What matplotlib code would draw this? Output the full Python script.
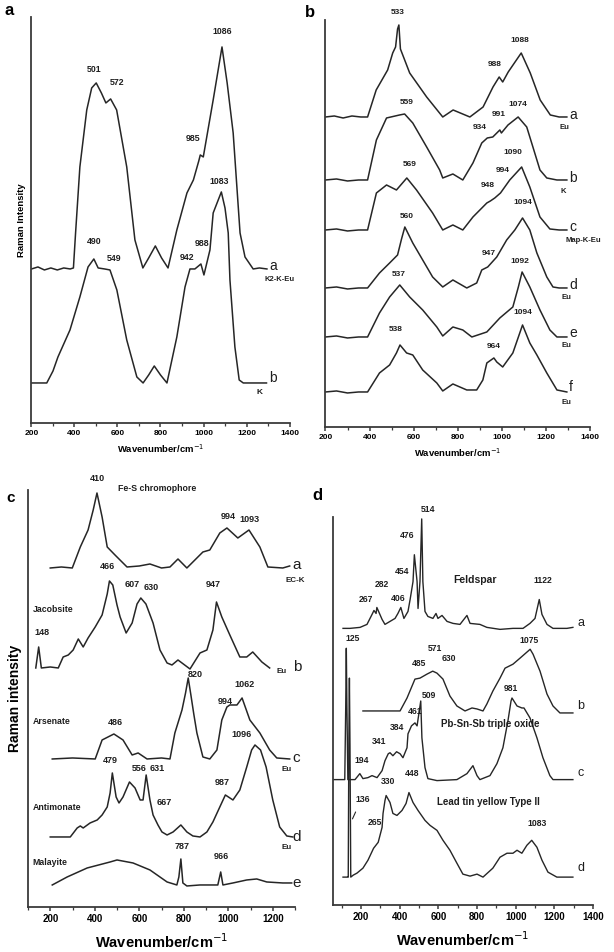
import matplotlib.pyplot as plt
from matplotlib.ticker import MultipleLocator

plt.rcParams['font.family'] = ['Liberation Sans', 'DejaVu Sans']

LINE = '#262626'

# ---------------- panel a ----------------
pa_a_x = [200, 230, 260, 290, 320, 350, 380, 395, 405, 425, 457, 480, 501, 525, 546, 568, 596, 643, 681,
          718, 745, 776, 805, 835, 876, 923, 953, 978, 985, 999, 1045, 1086, 1110, 1138, 1170, 1193, 1231, 1260, 1295]
pa_a_y = [154, 156, 153, 155, 153, 155, 154, 155, 190, 256, 313, 335, 340, 330, 320, 324, 313, 256, 183,
          155, 165, 177, 165, 155, 193, 230, 243, 262, 268, 266, 323, 376, 340, 290, 190, 166, 154, 155, 154]
pa_b_x = [200, 240, 271, 300, 323, 379, 425, 463, 490, 510, 540, 565, 597, 643, 690, 719, 745, 771, 800,
          830, 876, 914, 937, 960, 988, 1002, 1030, 1045, 1083, 1100, 1115, 1123, 1146, 1166, 1185, 1240, 1293]
pa_b_y = [40, 40, 40, 52, 66, 93, 126, 156, 164, 155, 154, 153, 133, 83, 46, 40, 48, 57, 48,
          40, 86, 136, 154, 154, 159, 148, 173, 210, 231, 215, 190, 143, 76, 43, 40, 40, 40]

# ---------------- panel b ----------------
pb_a_x = [200, 240, 280, 320, 360, 391, 430, 482, 505, 518, 527, 533, 540, 582, 659, 732, 779, 855, 915,
          960, 988, 1004, 1029, 1088, 1129, 1174, 1220, 1260, 1295]
pb_a_y = [310, 311, 309, 311, 310, 310, 337, 357, 374, 380, 398, 402, 378, 354, 330, 310, 317, 310, 320,
          340, 350, 345, 355, 374, 354, 327, 312, 310, 310]
pb_b_x = [200, 250, 300, 350, 391, 431, 477, 536, 559, 596, 659, 718, 732, 778, 823, 869, 909, 934, 959,
          991, 998, 1028, 1074, 1113, 1141, 1173, 1204, 1250, 1295]
pb_b_y = [247, 248, 246, 247, 247, 287, 309, 312, 313, 304, 280, 257, 249, 253, 247, 264, 284, 289, 290,
          297, 294, 302, 310, 300, 280, 257, 249, 247, 247]
pb_c_x = [200, 250, 300, 350, 391, 431, 477, 522, 569, 613, 686, 732, 778, 823, 869, 932, 948, 968, 994,
          1036, 1090, 1127, 1173, 1218, 1260, 1295]
pb_c_y = [197, 198, 196, 197, 197, 234, 242, 237, 249, 237, 214, 197, 202, 197, 210, 224, 226, 229, 234,
          247, 260, 240, 210, 198, 197, 197]
pb_d_x = [200, 250, 300, 350, 391, 445, 491, 527, 545, 560, 596, 641, 686, 732, 778, 841, 886, 909, 936,
          977, 1022, 1059, 1094, 1127, 1159, 1204, 1232, 1260, 1295]
pb_d_y = [139, 140, 138, 139, 139, 154, 164, 172, 188, 200, 184, 167, 150, 140, 147, 139, 144, 157, 160,
          170, 187, 197, 209, 197, 174, 150, 140, 139, 139]
pb_e_x = [200, 250, 300, 350, 391, 445, 491, 537, 582, 641, 705, 732, 778, 823, 864, 932, 991, 1050, 1075,
          1092, 1127, 1173, 1218, 1250, 1295]
pb_e_y = [90, 91, 89, 90, 90, 114, 130, 142, 130, 117, 100, 91, 100, 97, 90, 95, 109, 120, 140,
          155, 140, 117, 97, 90, 90]
pb_f_x = [200, 250, 300, 350, 391, 445, 491, 522, 538, 568, 596, 641, 705, 732, 778, 841, 886, 914, 932,
          964, 977, 1004, 1050, 1094, 1127, 1159, 1204, 1250, 1295]
pb_f_y = [35, 36, 34, 35, 35, 54, 62, 74, 82, 74, 72, 57, 44, 36, 43, 37, 37, 47, 64,
          69, 65, 60, 74, 102, 84, 72, 54, 37, 35]

# ---------------- panel c ----------------
pc_a_x = [200, 250, 299, 335, 370, 393, 410, 433, 456, 491, 545, 600, 648, 700, 738, 774, 814, 859, 886,
          917, 962, 994, 1043, 1093, 1142, 1178, 1245, 1276]
pc_a_y = [339, 340, 339, 360, 377, 397, 414, 390, 360, 352, 340, 341, 343, 339, 340, 348, 339, 349, 355,
          357, 374, 379, 369, 377, 360, 340, 339, 341]
pc_b_x = [135, 148, 160, 200, 236, 258, 281, 303, 326, 348, 370, 402, 433, 456, 466, 481, 500, 514, 541, 568,
          590, 607, 630, 662, 693, 725, 747, 774, 828, 873, 904, 931, 947, 971, 1007, 1052, 1083, 1110, 1151, 1186]
pc_b_y = [239, 260, 239, 240, 239, 250, 252, 257, 268, 260, 269, 280, 292, 313, 326, 322, 302, 290, 274, 284,
          303, 309, 303, 284, 257, 244, 242, 247, 238, 254, 257, 277, 305, 290, 272, 250, 250, 255, 245, 239]
pc_c_x = [209, 300, 402, 433, 486, 527, 568, 595, 635, 700, 738, 760, 792, 808, 820, 832, 845, 859, 886,
          917, 949, 971, 994, 1007, 1039, 1062, 1097, 1142, 1186, 1218, 1276]
pc_c_y = [148, 149, 148, 167, 173, 167, 152, 154, 148, 149, 148, 174, 197, 214, 229, 212, 193, 174, 150,
          148, 157, 187, 200, 202, 202, 209, 187, 174, 157, 149, 148]
pc_d_x = [200, 290, 321, 335, 348, 379, 411, 433, 456, 469, 479, 496, 509, 527, 556, 581, 604, 617, 631,
          648, 662, 684, 702, 725, 752, 787, 814, 841, 873, 904, 931, 962, 987, 1021, 1052, 1083, 1105, 1120,
          1145, 1170, 1200, 1231, 1263, 1290]
pc_d_y = [70, 70, 79, 81, 79, 84, 87, 92, 100, 114, 134, 110, 104, 110, 125, 119, 107, 107, 132,
          107, 92, 82, 75, 72, 75, 82, 75, 71, 70, 75, 85, 100, 112, 107, 117, 140, 157, 162,
          157, 140, 107, 80, 71, 70]
pc_e_x = [209, 276, 366, 469, 500, 572, 648, 725, 769, 778, 787, 796, 814, 873, 953, 966, 976, 1021, 1083,
          1128, 1173, 1245, 1285]
pc_e_y = [22, 30, 39, 45, 47, 44, 37, 25, 22, 30, 48, 24, 21, 22, 22, 35, 22, 24, 27,
          28, 25, 24, 24]

# ---------------- panel d ----------------
pd_a_x = [107, 143, 195, 231, 257, 267, 278, 282, 309, 324, 350, 376, 391, 406, 422, 443, 454, 469, 476,
          490, 495, 505, 514, 520, 531, 546, 572, 588, 598, 619, 645, 676, 712, 748, 764, 815, 851, 919,
          986, 1038, 1074, 1100, 1122, 1136, 1162, 1193, 1265, 1296]
pd_a_y = [278, 278, 279, 282, 292, 296, 293, 299, 287, 282, 285, 288, 293, 299, 288, 295, 307, 325, 352,
          325, 298, 325, 388, 325, 295, 290, 288, 293, 288, 291, 285, 283, 282, 291, 283, 282, 279, 277,
          278, 278, 283, 288, 307, 292, 282, 278, 278, 279]
pd_b_x = [210, 300, 402, 438, 479, 505, 541, 571, 593, 624, 660, 696, 738, 774, 800, 831, 851, 882, 919,
          945, 986, 1022, 1075, 1090, 1126, 1162, 1193, 1229, 1296]
pd_b_y = [195, 195, 195, 208, 227, 228, 232, 235, 233, 227, 210, 200, 195, 198, 197, 195, 202, 215, 228,
          238, 242, 248, 257, 252, 235, 212, 200, 193, 193]
pd_c_x = [55, 107, 116, 121, 124, 127, 132, 169, 194, 210, 236, 257, 283, 309, 324, 341, 350, 365, 384,
          402, 417, 438, 443, 461, 479, 490, 509, 515, 531, 546, 593, 696, 748, 779, 800, 815, 867, 903,
          934, 960, 976, 981, 1007, 1032, 1043, 1074, 1110, 1141, 1177, 1193, 1296]
pd_c_y = [126, 126, 126, 200, 258, 200, 126, 126, 132, 127, 128, 130, 128, 135, 145, 152, 153, 150, 154,
          152, 148, 158, 172, 180, 183, 180, 205, 168, 138, 127, 125, 126, 132, 140, 130, 126, 130, 142,
          158, 185, 205, 208, 200, 198, 198, 188, 168, 148, 130, 126, 126]
pd_d_x = [107, 130, 134, 137, 140, 143, 147, 160, 179, 210, 236, 265, 289, 309, 314, 324, 330, 350, 365,
          386, 412, 433, 448, 469, 495, 531, 557, 593, 624, 660, 696, 727, 764, 800, 831, 882, 919, 955,
          986, 1007, 1032, 1058, 1083, 1110, 1136, 1167, 1213, 1296]
pd_d_y = [28, 28, 28, 160, 228, 160, 28, 30, 32, 37, 45, 57, 63, 78, 92, 105, 110, 103, 92,
          90, 95, 102, 113, 103, 95, 85, 80, 75, 65, 55, 42, 31, 29, 31, 28, 37, 48, 52,
          52, 55, 52, 60, 65, 58, 45, 33, 28, 28]


def style_axis(ax, xmin, xmax, ymax, majors, tick_size):
    ax.set_xlim(xmin, xmax)
    ax.set_ylim(0, ymax)
    ax.spines['top'].set_visible(False)
    ax.spines['right'].set_visible(False)
    for side in ('left', 'bottom'):
        ax.spines[side].set_linewidth(1.3)
        ax.spines[side].set_color('#3a3a3a')
    ax.set_yticks([])
    ax.set_xticks(majors)
    ax.xaxis.set_minor_locator(MultipleLocator(100))
    ax.tick_params(axis='x', which='major', length=3, width=1.1, labelsize=tick_size, pad=2, color='#3a3a3a')
    ax.tick_params(axis='x', which='minor', length=2, width=0.9, color='#3a3a3a')
    for lab in ax.get_xticklabels():
        lab.set_fontweight('bold')


def put(ax, x, y, s, size, weight='bold', ha='center'):
    ax.text(x, y, s, fontsize=size, fontweight=weight, ha=ha, va='center', color='#1e1e1e')


fig = plt.figure(figsize=(6.14, 9.52), dpi=100)

# ---- a ----
ax = fig.add_axes([0.0513, 0.5557, 0.4202, 0.4265])
ax.plot(pa_a_x, pa_a_y, color=LINE, lw=1.1)
ax.plot(pa_b_x, pa_b_y, color=LINE, lw=1.1)
style_axis(ax, 200, 1400, 406, range(200, 1401, 200), 6)
for x, y, s in [(490, 353, '501'), (598, 340, '572'), (1086, 391, '1086'), (951, 284, '985'),
                (1072, 241, '1083'), (491, 181, '490'), (584, 164, '549'), (923, 165, '942'),
                (993, 179, '988')]:
    put(ax, x, y, s, 6.3)
put(ax, 1305, 157, 'a', 10, 'normal', 'left')
put(ax, 1356, 143, 'K2-K-Eu', 5.5)
put(ax, 1305, 45, 'b', 10, 'normal', 'left')
put(ax, 1262, 30, 'K', 6)
ax.set_xlabel('Wavenumber/cm$^{-1}$', fontsize=6.8, fontweight='bold', labelpad=4)
ax.set_ylabel('Raman Intensity', fontsize=6.8, fontweight='bold', labelpad=4)

# ---- b ----
ax = fig.add_axes([0.5301, 0.5515, 0.4308, 0.4275])
for xs, ys in [(pb_a_x, pb_a_y), (pb_b_x, pb_b_y), (pb_c_x, pb_c_y),
               (pb_d_x, pb_d_y), (pb_e_x, pb_e_y), (pb_f_x, pb_f_y)]:
    ax.plot(xs, ys, color=LINE, lw=1.1)
style_axis(ax, 200, 1400, 407, range(200, 1401, 200), 6)
for x, y, s in [(527, 414, '533'), (1082, 386, '1088'), (968, 362, '988'), (568, 324, '559'),
                (986, 312, '991'), (1073, 322, '1074'), (900, 299, '934'), (1050, 274, '1090'),
                (582, 262, '569'), (1004, 256, '994'), (936, 241, '948'), (1095, 224, '1094'),
                (568, 210, '560'), (941, 173, '947'), (1082, 165, '1092'), (532, 152, '537'),
                (1095, 114, '1094'), (518, 97, '538'), (964, 80, '964')]:
    put(ax, x, y, s, 6.0)
for y, s in [(312, 'a'), (249, 'b'), (200, 'c'), (142, 'd'), (94, 'e'), (40, 'f')]:
    put(ax, 1305, y, s, 10, 'normal', 'left')
for x, y, s in [(1286, 299, 'Eu'), (1277, 235, 'K'), (1368, 186, 'Map-K-Eu'), (1295, 129, 'Eu'),
                (1295, 81, 'Eu'), (1295, 24, 'Eu')]:
    put(ax, x, y, s, 5.5)
ax.set_xlabel('Wavenumber/cm$^{-1}$', fontsize=6.8, fontweight='bold', labelpad=4)

# ---- c ----
ax = fig.add_axes([0.0456, 0.0473, 0.4349, 0.4380])
for xs, ys in [(pc_a_x, pc_a_y), (pc_b_x, pc_b_y), (pc_c_x, pc_c_y),
               (pc_d_x, pc_d_y), (pc_e_x, pc_e_y)]:
    ax.plot(xs, ys, color=LINE, lw=1.1)
style_axis(ax, 100, 1300, 417, range(200, 1201, 200), 7)
for x, y, s in [(411, 428, '410'), (998, 390, '994'), (1097, 387, '1093'), (456, 340, '466'),
                (568, 322, '607'), (652, 319, '630'), (164, 274, '148'), (931, 322, '947'),
                (850, 232, '820'), (1074, 222, '1062'), (985, 205, '994'), (491, 184, '486'),
                (1061, 172, '1096'), (469, 146, '479'), (598, 138, '556'), (680, 138, '631'),
                (971, 124, '987'), (712, 104, '667'), (792, 60, '787'), (967, 50, '966')]:
    put(ax, x, y, s, 6.5)
put(ax, 680, 418, 'Fe-S chromophore', 6.3)
for y, s in [(297, 'Jacobsite'), (185, 'Arsenate'), (99, 'Antimonate'), (44, 'Malayite')]:
    put(ax, 120, y, s, 6.3, 'bold', 'left')
for y, s in [(342, 'a'), (240, 'b'), (149, 'c'), (70, 'd'), (24, 'e')]:
    put(ax, 1290, y, s, 11, 'normal', 'left')
for x, y, s in [(1299, 326, 'EC-K'), (1240, 235, 'Eu'), (1263, 137, 'Eu'), (1263, 59, 'Eu')]:
    put(ax, x, y, s, 5.8)
ax.set_xlabel('Wavenumber/cm$^{-1}$', fontsize=10.5, fontweight='bold', labelpad=6)
ax.set_ylabel('Raman intensity', fontsize=10, fontweight='bold', labelpad=4)

# ---- d ----
ax = fig.add_axes([0.5423, 0.0494, 0.4235, 0.4076])
for xs, ys in [(pd_a_x, pd_a_y), (pd_b_x, pd_b_y), (pd_c_x, pd_c_y), (pd_d_x, pd_d_y)]:
    ax.plot(xs, ys, color=LINE, lw=1.0)
style_axis(ax, 55, 1400, 390, range(200, 1401, 200), 7)
for x, y, s in [(546, 397, '514'), (438, 371, '476'), (412, 335, '454'), (309, 322, '282'),
                (226, 307, '267'), (391, 308, '406'), (1141, 326, '1122'), (159, 268, '125'),
                (1069, 266, '1075'), (583, 258, '571'), (655, 248, '630'), (500, 243, '485'),
                (976, 218, '981'), (552, 211, '509'), (479, 194, '461'), (386, 178, '384'),
                (293, 164, '341'), (205, 145, '194'), (340, 124, '330'), (464, 132, '448'),
                (210, 106, '136'), (272, 83, '265'), (1110, 82, '1083')]:
    put(ax, x, y, s, 6.2)
put(ax, 789, 327, 'Feldspar', 7.5)
put(ax, 867, 182, 'Pb-Sn-Sb triple oxide', 7)
put(ax, 857, 103, 'Lead tin yellow Type II', 7)
for y, s in [(283, 'a'), (200, 'b'), (133, 'c'), (37, 'd')]:
    put(ax, 1320, y, s, 9, 'normal', 'left')
ax.annotate('', xy=(150, 84), xytext=(178, 96),
            arrowprops=dict(arrowstyle='-', color=LINE, lw=0.8))
ax.set_xlabel('Wavenumber/cm$^{-1}$', fontsize=10.5, fontweight='bold', labelpad=6)

# panel letters
fig.text(0.008, 0.989, 'a', fontsize=12, fontweight='bold', va='center')
fig.text(0.497, 0.987, 'b', fontsize=12, fontweight='bold', va='center')
fig.text(0.010, 0.477, 'c', fontsize=11, fontweight='bold', va='center')
fig.text(0.508, 0.480, 'd', fontsize=12, fontweight='bold', va='center')

fig.savefig('out.png', dpi=100)
